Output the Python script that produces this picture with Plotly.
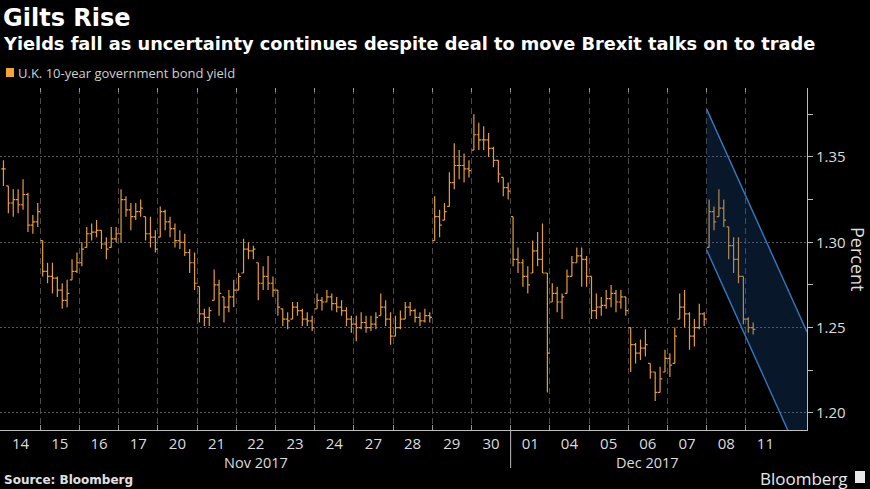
import plotly.graph_objects as go

# ---------------- data ----------------
day_labels = ["14", "15", "16", "17", "20", "21", "22", "23", "24", "27", "28",
              "29", "30", "01", "04", "05", "06", "07", "08", "11"]
day_month = ["Nov 2017"] * 13 + ["Dec 2017"] * 7
bars_per_day = [8] * 19 + [2]
full_day_bars = 8  # 3-hour bars

bar_high = [
    1.348, 1.333, 1.331, 1.331, 1.337, 1.329, 1.316, 1.323,   # 14
    1.301, 1.288, 1.288, 1.280, 1.276, 1.278, 1.290, 1.294,   # 15
    1.300, 1.309, 1.311, 1.313, 1.307, 1.303, 1.309, 1.309,   # 16
    1.331, 1.327, 1.323, 1.323, 1.325, 1.315, 1.315, 1.307,   # 17
    1.321, 1.319, 1.315, 1.311, 1.307, 1.305, 1.296, 1.294,   # 20
    1.274, 1.261, 1.262, 1.284, 1.278, 1.268, 1.272, 1.278,   # 21
    1.282, 1.302, 1.300, 1.298, 1.288, 1.286, 1.292, 1.280,   # 22
    1.272, 1.261, 1.259, 1.265, 1.265, 1.261, 1.259, 1.257,   # 23
    1.270, 1.268, 1.272, 1.270, 1.268, 1.266, 1.262, 1.257,   # 24
    1.257, 1.259, 1.257, 1.257, 1.259, 1.270, 1.266, 1.259,   # 27
    1.257, 1.260, 1.265, 1.265, 1.261, 1.259, 1.261, 1.259,   # 28
    1.327, 1.319, 1.323, 1.341, 1.358, 1.354, 1.352, 1.348,   # 29
    1.375, 1.370, 1.368, 1.364, 1.356, 1.348, 1.338, 1.335,   # 30
    1.315, 1.297, 1.290, 1.286, 1.301, 1.306, 1.311, 1.282,   # 01
    1.276, 1.274, 1.270, 1.284, 1.292, 1.297, 1.297, 1.292,   # 04
    1.280, 1.270, 1.268, 1.272, 1.275, 1.272, 1.272, 1.268,   # 05
    1.250, 1.241, 1.243, 1.249, 1.229, 1.224, 1.227, 1.237,   # 06
    1.235, 1.250, 1.270, 1.272, 1.259, 1.255, 1.264, 1.259,   # 07
    1.325, 1.321, 1.331, 1.325, 1.309, 1.303, 1.303, 1.280,   # 08
    1.256, 1.253,                                             # 11
]
bar_low = [
    1.333, 1.317, 1.315, 1.317, 1.319, 1.306, 1.305, 1.309,
    1.280, 1.276, 1.270, 1.268, 1.261, 1.262, 1.278, 1.282,
    1.286, 1.297, 1.301, 1.303, 1.296, 1.290, 1.297, 1.300,
    1.300, 1.315, 1.307, 1.313, 1.315, 1.301, 1.297, 1.294,
    1.303, 1.307, 1.303, 1.297, 1.296, 1.292, 1.282, 1.272,
    1.253, 1.251, 1.251, 1.266, 1.257, 1.253, 1.259, 1.262,
    1.272, 1.282, 1.290, 1.290, 1.266, 1.272, 1.272, 1.268,
    1.257, 1.251, 1.249, 1.255, 1.257, 1.251, 1.251, 1.248,
    1.261, 1.260, 1.265, 1.260, 1.259, 1.257, 1.251, 1.247,
    1.242, 1.249, 1.247, 1.248, 1.249, 1.257, 1.251, 1.240,
    1.245, 1.249, 1.255, 1.257, 1.253, 1.251, 1.253, 1.253,
    1.301, 1.303, 1.313, 1.321, 1.331, 1.337, 1.335, 1.338,
    1.354, 1.354, 1.354, 1.350, 1.344, 1.335, 1.327, 1.325,
    1.286, 1.282, 1.274, 1.270, 1.282, 1.286, 1.282, 1.212,
    1.265, 1.259, 1.255, 1.270, 1.280, 1.288, 1.274, 1.274,
    1.255, 1.255, 1.257, 1.261, 1.262, 1.259, 1.261, 1.257,
    1.224, 1.229, 1.231, 1.233, 1.220, 1.207, 1.212, 1.224,
    1.221, 1.229, 1.255, 1.250, 1.237, 1.239, 1.249, 1.251,
    1.297, 1.307, 1.315, 1.309, 1.290, 1.282, 1.276, 1.252,
    1.247, 1.246,
]
bar_close = [
    1.343, 1.323, 1.325, 1.322, 1.328, 1.310, 1.312, 1.318,
    1.283, 1.280, 1.279, 1.272, 1.266, 1.270, 1.283, 1.288,
    1.296, 1.305, 1.306, 1.307, 1.299, 1.296, 1.302, 1.305,
    1.325, 1.319, 1.315, 1.318, 1.320, 1.305, 1.303, 1.296,
    1.318, 1.312, 1.308, 1.301, 1.300, 1.294, 1.288, 1.276,
    1.258, 1.256, 1.260, 1.275, 1.270, 1.262, 1.268, 1.272,
    1.280, 1.296, 1.295, 1.296, 1.276, 1.280, 1.276, 1.272,
    1.262, 1.255, 1.254, 1.262, 1.260, 1.255, 1.254, 1.250,
    1.266, 1.265, 1.268, 1.264, 1.262, 1.260, 1.255, 1.252,
    1.250, 1.253, 1.250, 1.252, 1.256, 1.262, 1.255, 1.245,
    1.250, 1.255, 1.262, 1.260, 1.256, 1.254, 1.257, 1.256,
    1.315, 1.310, 1.318, 1.335, 1.345, 1.345, 1.343, 1.342,
    1.363, 1.360, 1.360, 1.355, 1.348, 1.340, 1.332, 1.330,
    1.290, 1.288, 1.280, 1.275, 1.295, 1.290, 1.282, 1.235,
    1.270, 1.265, 1.268, 1.280, 1.288, 1.292, 1.290, 1.280,
    1.260, 1.262, 1.263, 1.267, 1.270, 1.265, 1.268, 1.260,
    1.240, 1.235, 1.238, 1.240, 1.224, 1.212, 1.220, 1.232,
    1.228, 1.245, 1.262, 1.258, 1.245, 1.250, 1.258, 1.255,
    1.318, 1.312, 1.320, 1.313, 1.298, 1.290, 1.280, 1.255,
    1.250, 1.249,
]

# downward trend channel drawn from Dec 08
channel_start_label = "08"
channel_top_start = 1.378
channel_bottom_start = 1.2955
channel_slope = -0.051  # percent per day

y_ticks = [1.20, 1.25, 1.30, 1.35]

# ---------------- derived ----------------
bar_x = []
for d, n in enumerate(bars_per_day):
    for i in range(n):
        bar_x.append(d + (i + 0.5) / full_day_bars)

bar_open = []
prev = None
for h, l, c in zip(bar_high, bar_low, bar_close):
    o = c if prev is None else min(max(prev, l), h)
    bar_open.append(o)
    prev = c

X_MIN, X_MAX = -0.0255, 20.56
Y_MIN, Y_MAX = 1.190, 1.3904

cs = day_labels.index(channel_start_label)
ch_x = [cs, X_MAX]
ch_top = [channel_top_start, channel_top_start + channel_slope * (X_MAX - cs)]
ch_bot = [channel_bottom_start, channel_bottom_start + channel_slope * (X_MAX - cs)]

ORANGE = "#e69c38"
TXT = "#dcdcdc"
GRID = "#4a4a4a"

fig = go.Figure()

# channel fill
fig.add_trace(go.Scatter(
    x=ch_x + ch_x[::-1], y=ch_top + ch_bot[::-1], fill="toself",
    fillcolor="rgba(30,90,160,0.26)", line=dict(width=0), mode="lines",
    hoverinfo="skip", showlegend=False))
for yy in (ch_top, ch_bot):
    fig.add_trace(go.Scatter(x=ch_x, y=yy, mode="lines",
                             line=dict(color="#3479bd", width=1.4),
                             hoverinfo="skip", showlegend=False))

fig.add_trace(go.Ohlc(
    x=bar_x, open=bar_open, high=bar_high, low=bar_low, close=bar_close,
    increasing=dict(line=dict(color=ORANGE, width=1.2)),
    decreasing=dict(line=dict(color=ORANGE, width=1.2)),
    tickwidth=0.45, showlegend=False, name="U.K. 10-year government bond yield"))

# invisible trace to anchor the top tick axis
fig.add_trace(go.Scatter(x=[None], y=[None], xaxis="x2", yaxis="y",
                         showlegend=False, hoverinfo="skip"))

L, R, T, B = 0, 63, 88, 59
W, H = 870, 489
PW, PH = W - L - R, H - T - B


def px_x(p):
    return (p - L) / PW


def px_y(p):
    return (H - B - p) / PH


centers = [d + 0.5 for d in range(len(day_labels))]
boundaries = list(range(1, len(day_labels)))

fig.update_layout(
    width=W, height=H,
    margin=dict(l=L, r=R, t=T, b=B),
    paper_bgcolor="#000000", plot_bgcolor="#000000",
    font=dict(family="Open Sans", color=TXT, size=15),
    showlegend=False,
    xaxis=dict(
        range=[X_MIN, X_MAX], rangeslider=dict(visible=False),
        tickmode="array", tickvals=centers, ticktext=day_labels,
        ticks="", showgrid=False, zeroline=False,
        showline=True, linecolor="#bdbdbd", linewidth=1,
        tickfont=dict(family="Open Sans", size=15, color=TXT),
        minor=dict(tickmode="array", tickvals=boundaries, ticks="inside",
                   ticklen=5, tickcolor="#9a9a9a", showgrid=True,
                   gridcolor=GRID, griddash="6px,4px", gridwidth=1),
    ),
    xaxis2=dict(
        overlaying="x", side="top", matches="x", range=[X_MIN, X_MAX],
        tickmode="array", tickvals=[0] + boundaries, ticks="inside",
        ticklen=4, tickcolor="#9a9a9a", showticklabels=False,
        showgrid=False, showline=False, zeroline=False,
    ),
    yaxis=dict(
        side="right", range=[Y_MIN, Y_MAX],
        tickmode="array", tickvals=y_ticks,
        ticktext=[f"{v:.2f}" for v in y_ticks],
        ticks="outside", ticklen=5, tickcolor="#bdbdbd",
        showline=True, linecolor="#bdbdbd", linewidth=1,
        showgrid=True, gridcolor="#5a5a5a", griddash="2px,2px", gridwidth=1,
        zeroline=False,
        tickfont=dict(family="Open Sans", size=15, color=TXT),
        minor=dict(dtick=0.025, tick0=1.2, ticks="outside", ticklen=5,
                   tickcolor="#bdbdbd", showgrid=False),
    ),
)

# month separator line (between Nov and Dec)
sep = day_month.index("Dec 2017")
fig.add_shape(type="line", xref="x", yref="paper", x0=sep, x1=sep,
              y0=0, y1=px_y(468), line=dict(color="#bdbdbd", width=1))

# legend swatch
fig.add_shape(type="rect", xref="paper", yref="paper",
              x0=px_x(6), x1=px_x(14), y0=px_y(77), y1=px_y(68),
              fillcolor="#f4a53a", line=dict(width=0))

# Bloomberg icon
fig.add_shape(type="rect", xref="paper", yref="paper",
              x0=px_x(855), x1=px_x(865), y0=px_y(483), y1=px_y(471),
              fillcolor="#e8e8e8", line=dict(width=0))

ann = []
ann.append(dict(text="<b>Gilts Rise</b>", x=px_x(1), y=px_y(18),
                font=dict(family="DejaVu Sans", size=24, color="#ffffff")))
ann.append(dict(text="<b>Yields fall as uncertainty continues despite deal to move Brexit talks on to trade</b>",
                x=px_x(1), y=px_y(44),
                font=dict(family="DejaVu Sans", size=17.8, color="#ffffff")))
ann.append(dict(text="U.K. 10-year government bond yield", x=px_x(16), y=px_y(72.5),
                font=dict(family="Open Sans", size=13, color="#cfcfcf")))
ann.append(dict(text="<b>Source: Bloomberg</b>", x=px_x(2), y=px_y(480),
                font=dict(family="DejaVu Sans", size=12, color="#e0e0e0")))
ann.append(dict(text="Bloomberg", x=px_x(850), y=px_y(478), xanchor="right",
                font=dict(family="Open Sans", size=17, color="#e8e8e8")))
for a in ann:
    a.update(xref="paper", yref="paper", showarrow=False, yanchor="middle")
    a.setdefault("xanchor", "left")

# Percent axis title (reads top to bottom)
ann.append(dict(text="Percent", textangle=90, x=px_x(858), y=px_y(259),
                xref="paper", yref="paper", showarrow=False,
                xanchor="center", yanchor="middle",
                font=dict(family="Open Sans", size=18, color=TXT)))

# month labels centred on each month's days
for m in ["Nov 2017", "Dec 2017"]:
    idx = [i for i, mm in enumerate(day_month) if mm == m]
    ann.append(dict(text=m, x=(idx[0] + idx[-1] + 1) / 2, y=px_y(462),
                    xref="x", yref="paper", showarrow=False,
                    xanchor="center", yanchor="middle",
                    font=dict(family="Open Sans", size=14.5, color=TXT)))

fig.update_layout(annotations=ann)

fig.write_html("out.html",
               config={"displayModeBar": False},
               post_script="document.body.style.margin='0px';"
                           "document.body.style.overflow='hidden';")
